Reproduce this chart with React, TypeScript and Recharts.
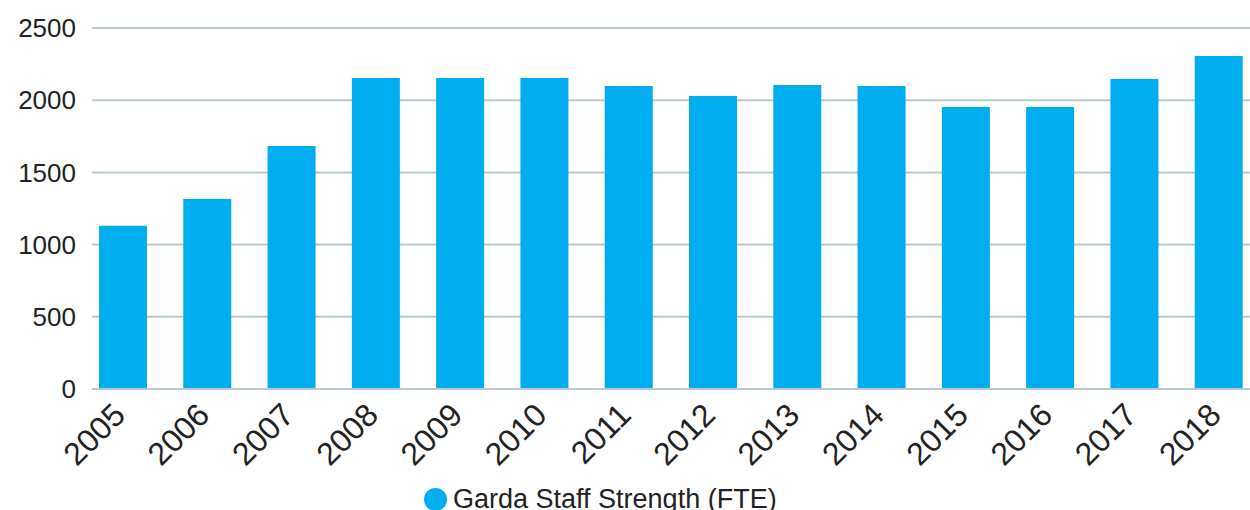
import { BarChart, Bar, XAxis, YAxis, CartesianGrid, Legend } from "recharts";

const years = ["2005", "2006", "2007", "2008", "2009", "2010", "2011", "2012", "2013", "2014", "2015", "2016", "2017", "2018"];
const staff = [1130, 1316, 1683, 2154, 2154, 2154, 2098, 2029, 2105, 2098, 1953, 1953, 2147, 2306];
const yTicks = [0, 500, 1000, 1500, 2000, 2500];

const data = years.map((year, i) => ({ year, staff: staff[i] }));

const BLUE = "#00aeef";
const GRID = "#b9c7d0";
const FONT = "'Liberation Sans', Arial, Helvetica, sans-serif";

function YearTick({ x, y, payload }: any) {
  return (
    <g transform={`translate(${x + 4},${y + 20})`}>
      <text x={0} y={0} textAnchor="end" transform="rotate(-45)" fill="#222" fontSize={32} fontFamily={FONT}>
        {payload.value}
      </text>
    </g>
  );
}

function LegendContent({ payload }: any) {
  const item = payload?.[0];
  return (
    <div style={{ display: "flex", alignItems: "center", gap: 6, fontFamily: FONT, fontSize: 27, lineHeight: "26px", color: "#222", whiteSpace: "nowrap" }}>
      <span style={{ width: 23, height: 23, borderRadius: "50%", background: BLUE, display: "inline-block" }} />
      <span>{item ? item.value : ""}</span>
    </div>
  );
}

export default function App() {
  return (
    <div style={{ position: "absolute", left: 0, top: 0 }}>
      <BarChart width={1250} height={510} data={data} margin={{ top: 28, right: 0, left: 0, bottom: 21 }}>
        <CartesianGrid vertical={false} stroke={GRID} strokeWidth={2} />
        <XAxis
          dataKey="year"
          height={100}
          interval={0}
          padding={{ left: -11, right: -11 }}
          axisLine={{ stroke: GRID, strokeWidth: 2 }}
          tickLine={false}
          tick={<YearTick />}
        />
        <YAxis
          width={92}
          domain={[0, 2500]}
          ticks={yTicks}
          axisLine={false}
          tickLine={false}
          tickMargin={10}
          tick={{ fill: "#222", fontSize: 26, fontFamily: FONT }}
        />
        <Legend
          verticalAlign="bottom"
          content={<LegendContent />}
          wrapperStyle={{ left: 424, top: 486, width: "auto", height: 0 }}
        />
        <Bar dataKey="staff" name="Garda Staff Strength (FTE)" fill={BLUE} barSize={48} isAnimationActive={false} />
      </BarChart>
    </div>
  );
}
